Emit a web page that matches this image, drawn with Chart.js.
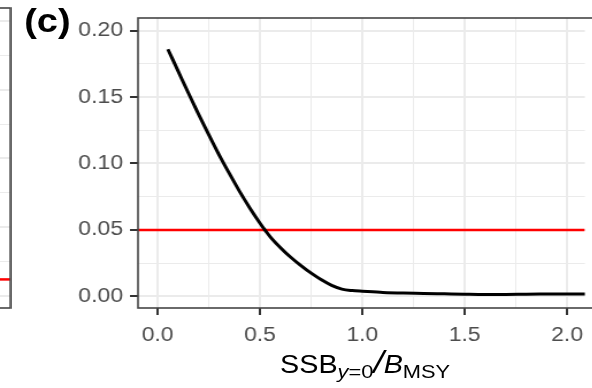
<!DOCTYPE html>
<html>
<head>
<meta charset="utf-8">
<script src="https://cdn.jsdelivr.net/npm/chart.js@4.4.0/dist/chart.umd.min.js"></script>
<style>
    body { margin: 0; background: #fff; }
    #stage { position: relative; width: 592px; height: 388px; overflow: hidden; }
    #figure {
        position: absolute; left: 0; top: 0; width: 515px; height: 388px;
        transform: scaleX(1.15); transform-origin: 0 0;
        font-family: "Liberation Sans", Arial, sans-serif;
    }
    #figure canvas { position: absolute; left: 0; top: 0; }
    #panelTag {
        position: absolute; left: 21px; top: 4px;
        font-size: 33px; font-weight: bold; line-height: 33px; color: #000;
    }
    #xTitle {
        position: absolute; left: 120px; width: 395px; top: 347px;
        text-align: center; font-size: 25px; line-height: 30px; color: #000; white-space: nowrap;
    }
    #xTitle .sub { font-size: 19px; position: relative; top: 5px; }
    #xTitle .slash { font-size: 32px; font-style: italic; }
</style>
</head>
<body>
<div id="stage">
    <div id="figure">
        <canvas id="sideChart" width="10" height="388"></canvas>
        <canvas id="mainChart" width="515" height="388"></canvas>
        <div id="panelTag">(c)</div>
        <div id="xTitle">SSB<span class="sub"><i>y</i>=0</span><span class="slash">/</span><i>B</i><span class="sub">MSY</span></div>
    </div>
</div>
<script>
// SSB(y=0)/BMSY against the probability curve
const ssbRatio = [0.05, 0.1, 0.15, 0.2, 0.25, 0.3, 0.35, 0.4, 0.45, 0.5, 0.55, 0.6, 0.65, 0.7, 0.75,
    0.8, 0.85, 0.9, 0.95, 1.0, 1.05, 1.1, 1.2, 1.3, 1.4, 1.5, 1.6, 1.7, 1.8, 1.9, 2.0, 2.1];
const probValues = [0.186, 0.1695, 0.153, 0.137, 0.1215, 0.1065, 0.0925, 0.079, 0.0665, 0.055, 0.0448,
    0.0366, 0.0294, 0.0231, 0.0174, 0.0124, 0.0082, 0.0054, 0.0043, 0.0038, 0.0034, 0.0029, 0.0024,
    0.0022, 0.0019, 0.0016, 0.0014, 0.0014, 0.0016, 0.0017, 0.0018, 0.0018];
const refLevel = 0.05;
const sideRefLevel = 0.012;

const xMajorTicks = [0, 0.5, 1.0, 1.5, 2.0];
const yMajorTicks = [0, 0.05, 0.10, 0.15, 0.20];
const xLimits = [-0.096, 2.087];
const yLimits = [-0.0088, 0.2095];

const fontFamily = '"Liberation Sans", Arial, sans-serif';

// majors plus a minor gridline halfway between each pair
function buildTicks(majors) {
    const ticks = [];
    majors.forEach((v, i) => {
        ticks.push({ value: v, isMajor: true });
        if (i < majors.length - 1) {
            ticks.push({ value: (v + majors[i + 1]) / 2, isMajor: false });
        }
    });
    return ticks;
}

const isMajor = ctx => ctx.tick && ctx.tick.isMajor;

function gridStyle(showTicks) {
    return {
        color: '#ebebeb',
        lineWidth: ctx => isMajor(ctx) ? 2 : 1,
        drawTicks: showTicks,
        tickLength: 7,
        tickWidth: 2,
        tickColor: ctx => isMajor(ctx) ? '#333333' : 'rgba(0,0,0,0)'
    };
}

// full panel outline, one side left open where the panel runs off the canvas
const panelBorder = {
    id: 'panelBorder',
    afterDatasetsDraw(chart, args, opts) {
        const { ctx, chartArea: a } = chart;
        const extraLeft = opts.openSide === 'left' ? 20 : 0;
        const extraRight = opts.openSide === 'right' ? 20 : 0;
        ctx.save();
        ctx.strokeStyle = '#454545';
        ctx.lineWidth = 1.6;
        ctx.strokeRect(a.left - extraLeft, a.top, a.right - a.left + extraLeft + extraRight, a.bottom - a.top);
        ctx.restore();
    }
};

new Chart(document.getElementById('mainChart'), {
    type: 'line',
    data: {
        datasets: [
            {
                data: ssbRatio.map((x, i) => ({ x: x, y: probValues[i] })),
                borderColor: '#000000',
                borderWidth: 3,
                pointRadius: 0,
                cubicInterpolationMode: 'monotone',
                fill: false
            },
            {
                data: xLimits.map(x => ({ x: x, y: refLevel })),
                borderColor: '#ff0000',
                borderWidth: 2.5,
                pointRadius: 0,
                fill: false
            }
        ]
    },
    options: {
        responsive: false,
        devicePixelRatio: 1,
        animation: false,
        layout: { padding: { top: 8, right: 0, bottom: 0, left: 0 } },
        plugins: {
            legend: { display: false },
            tooltip: { enabled: false },
            panelBorder: { openSide: 'right' }
        },
        scales: {
            x: {
                type: 'linear',
                min: xLimits[0],
                max: xLimits[1],
                afterBuildTicks: s => { s.ticks = buildTicks(xMajorTicks); },
                afterFit: s => { s.height = 80; },
                border: { display: false },
                grid: gridStyle(true),
                ticks: {
                    autoSkip: false,
                    maxRotation: 0,
                    minRotation: 0,
                    padding: 8,
                    color: '#4d4d4d',
                    font: { size: 20, family: fontFamily },
                    callback: (v, i, t) => t[i].isMajor ? v.toFixed(1) : ''
                }
            },
            y: {
                type: 'linear',
                min: yLimits[0],
                max: yLimits[1],
                afterBuildTicks: s => { s.ticks = buildTicks(yMajorTicks); },
                afterFit: s => { s.width = 120; },
                border: { display: false },
                grid: gridStyle(true),
                ticks: {
                    autoSkip: false,
                    padding: 6,
                    color: '#4d4d4d',
                    font: { size: 20, family: fontFamily },
                    callback: (v, i, t) => t[i].isMajor ? v.toFixed(2) : ''
                }
            }
        }
    },
    plugins: [panelBorder]
});

// edge of the neighbouring panel on the left
new Chart(document.getElementById('sideChart'), {
    type: 'line',
    data: {
        datasets: [{
            data: [{ x: 0, y: sideRefLevel }, { x: 1, y: sideRefLevel }],
            borderColor: '#ff0000',
            borderWidth: 2.5,
            pointRadius: 0,
            fill: false
        }]
    },
    options: {
        responsive: false,
        devicePixelRatio: 1,
        animation: false,
        layout: { padding: { top: 8, right: 1, bottom: 80, left: 0 } },
        plugins: {
            legend: { display: false },
            tooltip: { enabled: false },
            panelBorder: { openSide: 'left' }
        },
        scales: {
            x: { type: 'linear', min: 0, max: 1, display: false },
            y: {
                type: 'linear',
                min: yLimits[0],
                max: yLimits[1],
                afterBuildTicks: s => { s.ticks = buildTicks(yMajorTicks); },
                afterFit: s => { s.width = 0; },
                border: { display: false },
                grid: gridStyle(false),
                ticks: { display: false }
            }
        }
    },
    plugins: [panelBorder]
});
</script>
</body>
</html>
